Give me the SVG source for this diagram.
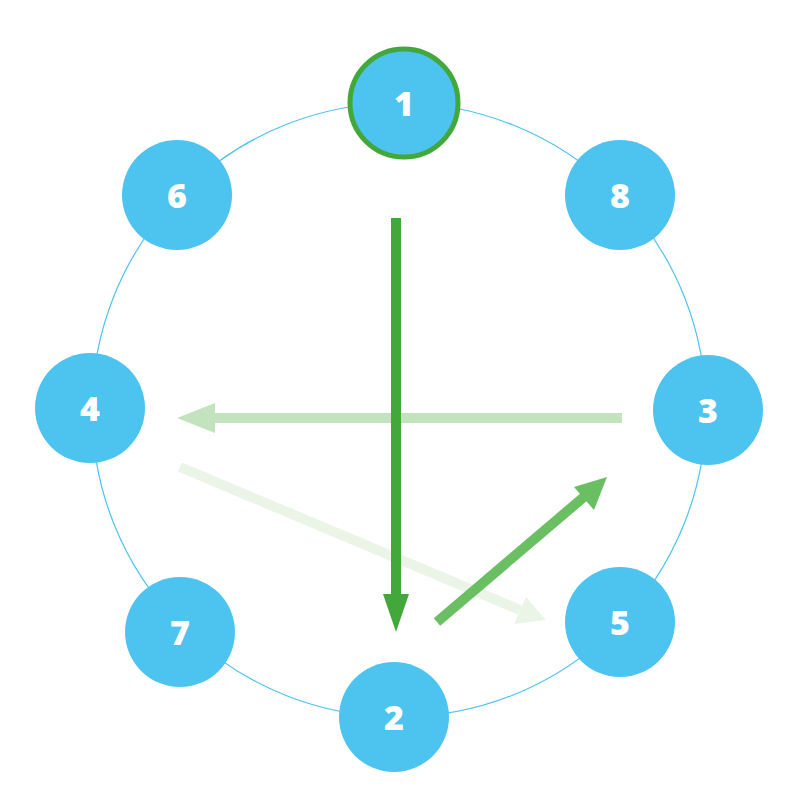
<svg xmlns="http://www.w3.org/2000/svg" width="800" height="800" viewBox="0 0 800 800">
<style>
.n{fill:#4dc3f0}
.t{font-family:"Open Sans",sans-serif;font-weight:800;font-size:34px;fill:#fff;text-anchor:middle;dominant-baseline:central}
</style>
<rect width="800" height="800" fill="#fff"/>
<circle cx="399" cy="410" r="307" fill="none" stroke="#4dc3f0" stroke-width="1.2"/>
<g id="connectors">
<line x1="622" y1="418" x2="205" y2="418" stroke="#c3e3be" stroke-width="10"/>
<polygon points="177,418 215,403 215,433" fill="#c3e3be"/>
<line x1="180" y1="467" x2="520" y2="610" stroke="#eaf5e8" stroke-width="10"/>
<polygon points="546,620 514,624 526,597" fill="#eaf5e8"/>
<line x1="396" y1="218" x2="396" y2="600" stroke="#43a83a" stroke-width="10"/>
<polygon points="396,632 383,594 409,594" fill="#43a83a"/>
<line x1="437" y1="622" x2="585" y2="496" stroke="#6bbf63" stroke-width="10"/>
<polygon points="607,477 594,510 574,487" fill="#6bbf63"/>
</g>
<g id="n1"><circle class="n" cx="404" cy="103" r="54" stroke="#43a83a" stroke-width="5"/><text class="t" x="404" y="103">1</text></g>
<g id="n2"><circle class="n" cx="394" cy="717" r="55"/><text class="t" x="394" y="717">2</text></g>
<g id="n3"><circle class="n" cx="708" cy="410" r="55"/><text class="t" x="708" y="410">3</text></g>
<g id="n4"><circle class="n" cx="90" cy="408" r="55"/><text class="t" x="90" y="408">4</text></g>
<g id="n5"><circle class="n" cx="620" cy="622" r="55"/><text class="t" x="620" y="622">5</text></g>
<g id="n6"><circle class="n" cx="177" cy="195" r="55"/><text class="t" x="177" y="195">6</text></g>
<g id="n7"><circle class="n" cx="180" cy="632" r="55"/><text class="t" x="180" y="632">7</text></g>
<g id="n8"><circle class="n" cx="620" cy="195" r="55"/><text class="t" x="620" y="195">8</text></g>
</svg>
